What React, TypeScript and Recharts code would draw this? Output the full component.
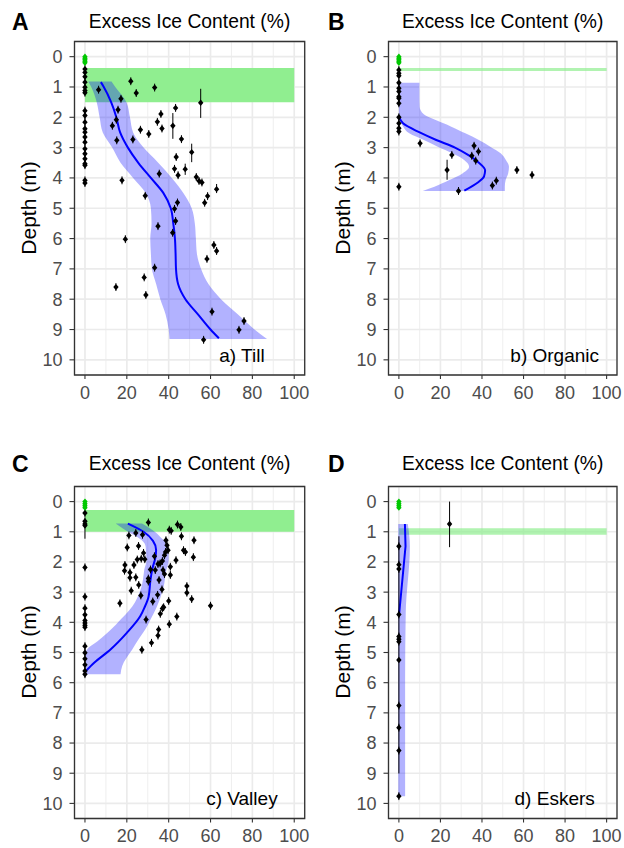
import React from "react";
import {
  ComposedChart,
  XAxis,
  YAxis,
  CartesianGrid,
  Area,
  Line,
  Scatter,
  ErrorBar,
  ReferenceArea,
  ReferenceDot,
} from "recharts";

const FONT = "'Liberation Sans', Arial, sans-serif";

const X_TICKS = [0, 20, 40, 60, 80, 100];
const X_MINOR = [10, 30, 50, 70, 90];
const Y_TICKS = [0, 1, 2, 3, 4, 5, 6, 7, 8, 9, 10];
const Y_MINOR = [0.5, 1.5, 2.5, 3.5, 4.5, 5.5, 6.5, 7.5, 8.5, 9.5];
const X_DOMAIN = [-5, 105];
const Y_DOMAIN = [-0.5, 10.5];
const DEFAULT_ERR = 0.13;

// ---- a) Till ----
const TILL_SURFACE = [0, 0.05, 0.1, 0.15, 0.2];
const TILL_ZERO = [0.41, 0.52, 0.66, 0.84, 1.01, 1.12, 1.19, 1.78, 1.94, 2.16, 2.38, 2.49, 2.65, 2.82, 3.04, 3.2, 3.37, 3.53, 3.58, 4.08, 4.17];
// [excess ice %, depth, err above, err below]
const TILL_POINTS = [
  [6.5, 1.09], [21.9, 0.81], [24.5, 1.2], [33.3, 1.02], [17.2, 1.39], [55.3, 1.52, 0.46, 0.5],
  [15.8, 1.75], [43.3, 1.69], [36.3, 1.89], [15, 2.08], [13.1, 2.28], [34.6, 2.15],
  [42, 2.28, 0.42, 0.43], [36.8, 2.37], [26.5, 2.41], [30.5, 2.55], [15.2, 2.76], [22.9, 2.73],
  [46.1, 2.72], [51, 3.15, 0.28, 0.33], [43.6, 3.31], [42.8, 3.7], [47.9, 3.71, 0.18, 0.19],
  [35.5, 3.86], [44.5, 3.91], [53.2, 3.97], [54.5, 4.1], [55.9, 4.15], [17.7, 4.08],
  [62.9, 4.37, 0.17, 0.13], [58.6, 4.6], [57.2, 4.82], [28.8, 4.59], [44.2, 4.81], [42.8, 5.02],
  [43.3, 5.42], [34.9, 5.59], [41.9, 5.81], [19.3, 6.02], [61.6, 6.21], [62.9, 6.41], [58.3, 6.67],
  [33.3, 6.96], [28.3, 7.28], [14.8, 7.6], [29.1, 7.86], [60.7, 8.41], [76, 8.72], [73.6, 9.01],
  [56.7, 9.34],
];
// [depth, fitted %]
const TILL_FIT = [
  [0.84, 7.6], [1.0, 9], [1.5, 12.5], [2.0, 15], [2.5, 16.8], [3.0, 20.5], [3.5, 25.5],
  [4.0, 31.5], [4.5, 37.5], [5.0, 41], [5.5, 42.2], [6.0, 43], [6.5, 43.3], [7.0, 43.5],
  [7.5, 44.5], [8.0, 48], [8.5, 54], [9.0, 60], [9.29, 64],
];
// [depth, lower, upper]
const TILL_BAND = [
  [0.82, 1.6, 12.7], [1.0, 3, 14.5], [1.5, 5.6, 19.8], [2.0, 7, 21.5], [2.5, 8.5, 23],
  [3.0, 13, 28], [3.5, 17, 35], [4.0, 23, 41.5], [4.5, 29, 47], [5.0, 31.5, 51],
  [5.5, 31.8, 52.5], [6.0, 31.2, 53], [6.5, 31.5, 53.5], [7.0, 32, 55.5], [7.5, 34, 59],
  [8.0, 36, 65], [8.5, 38.5, 73], [9.0, 40, 81], [9.31, 40.4, 87],
];
const TILL_LAYER = [0.37, 1.5];

// ---- b) Organic ----
const ORG_SURFACE = [0, 0.05, 0.1, 0.15, 0.2];
const ORG_ZERO = [0.44, 0.55, 0.63, 0.86, 1.04, 1.15, 1.32, 1.37, 1.54, 2.0, 2.2, 2.36, 2.47, 4.29];
const ORG_POINTS = [
  [10.2, 2.86], [25.5, 3.24], [23.2, 3.74, 0.34, 0.32], [36.2, 2.94], [38.3, 3.13], [35.1, 3.27],
  [37, 3.43], [56.8, 3.74], [64.1, 3.9], [46.9, 4.09], [45, 4.25], [28.7, 4.43],
];
const ORG_FIT = [
  [2.0, 0.2], [2.2, 2], [2.5, 10], [2.75, 18], [3.0, 27], [3.25, 33.5], [3.5, 38.5],
  [3.75, 41.5], [3.95, 41], [4.15, 38], [4.42, 31.5],
];
const ORG_BAND = [
  [0.86, 0, 9.9], [1.3, 0, 9.9], [1.65, 0, 10], [1.9, 0, 12], [2.1, 0.5, 18], [2.3, 2, 25],
  [2.53, 5, 32], [2.75, 12, 38.5], [2.97, 18.7, 44], [3.19, 25.8, 49], [3.41, 31.4, 51.5],
  [3.63, 33.8, 53], [3.85, 30.6, 52.6], [4.07, 24.3, 51.4], [4.29, 17.1, 51], [4.43, 11.5, 51],
];
const ORG_LAYER = [0.37, 0.47];

// ---- c) Valley ----
const VAL_SURFACE = [0, 0.07, 0.14, 0.2];
const VAL_ZERO = [0.38, 0.65, 0.74, 2.18, 3.15, 3.53, 3.75, 3.94, 4.02, 4.1, 4.16, 4.79, 5.01, 5.21, 5.41, 5.61, 5.72];
const VAL_POINTS = [
  [0, 0.79, 0.1, 0.44],
  [30.3, 0.69], [21, 1.12], [24.3, 1.04], [27.5, 1.1], [40.3, 0.93], [41.2, 0.97], [44.2, 0.76],
  [45.8, 0.84], [46.1, 1.15], [52.1, 1.28], [20.2, 1.52], [25.6, 1.47], [38.7, 1.28], [39.2, 1.45],
  [39.7, 1.61], [28, 1.7], [33.2, 1.81], [38.5, 1.67], [38, 1.78], [47.1, 1.61], [48, 1.67],
  [51.8, 1.84], [25, 1.92], [26.9, 1.89], [28.6, 1.91], [19.1, 2.1], [23.4, 2.1], [43.5, 1.94],
  [37, 1.97], [35.9, 2.05], [40.8, 2.16], [40.8, 2.43], [34.9, 2.07], [33.6, 2.27], [18.9, 2.29],
  [21.5, 2.35], [21.5, 2.52], [24.3, 2.51], [31.3, 2.25], [37.3, 2.27], [38, 2.4], [30.3, 2.55],
  [30.3, 2.65], [35.4, 2.6], [25.7, 2.76], [22.1, 2.95], [36.8, 2.91], [48.7, 2.8], [48.7, 3.02],
  [32.4, 3.31], [34.7, 3.09], [26.7, 3.11], [51, 3.23], [40, 3.29], [60, 3.45], [16.7, 3.37],
  [37.6, 3.5], [37, 3.54], [36, 3.72], [43.9, 3.81], [29.2, 3.91], [40.3, 4.06], [35.2, 4.24],
  [34.9, 4.44], [31.8, 4.68], [27.2, 4.91],
];
const VAL_FIT = [
  [0.73, 20.5], [1.0, 28], [1.3, 32.5], [1.6, 34], [1.9, 33.5], [2.2, 32.3], [2.6, 31.3],
  [3.15, 30.4], [3.5, 28.5], [3.8, 26.4], [4.35, 20], [4.9, 12.2], [5.34, 4.4], [5.61, 0.5],
];
const VAL_BAND = [
  [0.73, 14.7, 27.3], [1.06, 22, 34.4], [1.17, 25, 36], [1.39, 28.5, 39.2], [1.5, 29, 39.8],
  [1.83, 29.3, 40], [1.94, 29.4, 40], [2.27, 28.3, 38.9], [2.38, 28.1, 38.6], [2.82, 27, 37.6],
  [2.93, 26.5, 37.2], [3.48, 22.6, 34.4], [4.02, 15.5, 30.5], [4.13, 14, 29.7], [4.63, 6, 25],
  [4.9, 1, 22.6], [4.96, 0.5, 22], [5.45, 0.5, 17.8], [5.72, 0.5, 17],
];
const VAL_LAYER = [0.28, 1.0];

// ---- d) Eskers ----
const ESK_SURFACE = [0, 0.07, 0.14, 0.2];
const ESK_ZERO = [1.48, 2.09, 2.23, 3.74, 4.47, 4.56, 4.64, 6.76, 7.49, 8.25, 9.76];
const ESK_POINTS = [[24.4, 0.74, 0.74, 0.77], [0, 5.25, 4.1, 3.76]];
const ESK_FIT = [[0.74, 2.9], [1.48, 3.2], [3.74, 0.1]];
const ESK_BAND = [[0.74, -0.3, 4.3], [1.48, -0.3, 5.3], [3.7, -0.3, 3.3], [5.9, -0.3, 3], [9.76, -0.3, 3]];
const ESK_LAYER = [0.88, 1.1];

type Num = number[];

const toPoints = (zero: number[], pts: Num[]) => [
  ...zero.map((d) => ({ x: 0, d, e: [DEFAULT_ERR, DEFAULT_ERR] })),
  ...pts.map(([x, d, up, down]) => ({ x, d, e: [up ?? DEFAULT_ERR, down ?? DEFAULT_ERR] })),
];

const Diamond = (p: any) => (
  <polygon
    points={`${p.cx},${p.cy - 3.2} ${p.cx + 2.7},${p.cy} ${p.cx},${p.cy + 3.2} ${p.cx - 2.7},${p.cy}`}
    fill={p.fill}
  />
);

const XTick = (p: any) => (
  <text x={p.x} y={p.y} dy="0.71em" textAnchor="middle" fill="#4D4D4D" fontSize={18} fontFamily={FONT}>
    {p.payload.value}
  </text>
);

const YTick = (p: any) => (
  <text x={p.x} y={p.y} dy="0.355em" textAnchor="end" fill="#4D4D4D" fontSize={18} fontFamily={FONT}>
    {p.payload.value}
  </text>
);

type PanelProps = {
  left: number;
  top: number;
  plot: { l: number; t: number; r: number; b: number };
  surface: number[];
  zero: number[];
  points: Num[];
  fit: Num[];
  band: Num[];
  layer: number[];
  layerOpacity: number;
  label: string;
  linear?: boolean;
};

const W = 312;
const H = 424;
const Y_AXIS_W = 40;
const X_AXIS_H = 30;

const Panel = ({ left, top, plot, surface, zero, points, fit, band, layer, layerOpacity, label, linear }: PanelProps) => {
  const pts = toPoints(zero, points);
  const surf = surface.map((d) => ({ x: 0, d }));
  const fitData = fit.map(([d, x]) => ({ d, x }));
  const bandData = band.map(([d, lo, hi]) => ({ d, r: [lo, hi] }));
  const margin = {
    top: plot.t,
    left: plot.l - Y_AXIS_W,
    right: W - plot.r,
    bottom: H - plot.b - X_AXIS_H,
  };

  return (
    <div style={{ position: "absolute", left, top }}>
      <ComposedChart layout="vertical" width={W} height={H} margin={margin}>
        <XAxis xAxisId="minor" type="number" domain={X_DOMAIN} ticks={X_MINOR} allowDataOverflow hide />
        <YAxis yAxisId="minor" type="number" domain={Y_DOMAIN} ticks={Y_MINOR} allowDataOverflow hide />
        <CartesianGrid xAxisId="minor" yAxisId="minor" stroke="#EBEBEB" strokeWidth={0.8} />
        <CartesianGrid stroke="#EBEBEB" strokeWidth={1.7} />
        <XAxis
          type="number"
          dataKey="x"
          domain={X_DOMAIN}
          ticks={X_TICKS}
          allowDataOverflow
          height={X_AXIS_H}
          axisLine={false}
          tickSize={4}
          tickMargin={7}
          tickLine={{ stroke: "#333333", strokeWidth: 1.1 }}
          tick={<XTick />}
        />
        <YAxis
          type="number"
          dataKey="d"
          domain={Y_DOMAIN}
          ticks={Y_TICKS}
          allowDataOverflow
          width={Y_AXIS_W}
          axisLine={false}
          tickSize={5}
          tickMargin={7}
          tickLine={{ stroke: "#333333", strokeWidth: 1.1 }}
          tick={<YTick />}
        />
        <ReferenceArea x1={0} x2={100} y1={layer[0]} y2={layer[1]} fill="#90EE90" fillOpacity={layerOpacity} stroke="none" ifOverflow="visible" />
        <Area
          data={bandData}
          dataKey="r"
          type="monotone"
          fill="#0000FF"
          fillOpacity={0.3}
          stroke="none"
          isAnimationActive={false}
        />
        <Line
          data={fitData}
          dataKey="x"
          type={linear ? "linear" : "monotone"}
          stroke="#0000FF"
          strokeWidth={2}
          dot={false}
          activeDot={false}
          isAnimationActive={false}
        />
        <Scatter data={pts} fill="#000000" shape={<Diamond />} isAnimationActive={false}>
          <ErrorBar dataKey="e" direction="y" width={0} stroke="#000000" strokeWidth={1} isAnimationActive={false} />
        </Scatter>
        <Scatter data={surf} fill="#00C800" shape={<Diamond />} isAnimationActive={false} />
        <ReferenceDot
          x={75}
          y={9.84}
          ifOverflow="visible"
          shape={(p: any) => (
            <text x={p.cx} y={p.cy} dy="0.36em" textAnchor="middle" fontSize={19} fontFamily={FONT} fill="#000000">
              {label}
            </text>
          )}
        />
        <ReferenceArea
          x1={X_DOMAIN[0]}
          x2={X_DOMAIN[1]}
          y1={Y_DOMAIN[0]}
          y2={Y_DOMAIN[1]}
          fill="none"
          stroke="#333333"
          strokeWidth={1.3}
          ifOverflow="visible"
        />
      </ComposedChart>
    </div>
  );
};

const Titles = () => {
  const rows = [
    { y: 0, mid: 208, tags: ["A", "B"] },
    { y: 442, mid: 652, tags: ["C", "D"] },
  ];
  return (
    <svg width={624} height={848} style={{ position: "absolute", left: 0, top: 0, pointerEvents: "none" }}>
      {rows.map((row) =>
        [0, 1].map((c) => {
          const cx = c === 0 ? 189.6 : 502.7;
          const tagX = c === 0 ? 12 : 328;
          const depthX = c === 0 ? 28 : 342;
          return (
            <g key={row.tags[c]} fontFamily={FONT} fill="#000">
              <text x={tagX} y={row.y + 29.5} fontSize={23} fontWeight="bold">
                {row.tags[c]}
              </text>
              <text x={cx} y={row.y + 27.5} fontSize={19.3} textAnchor="middle">
                Excess Ice Content (%)
              </text>
              <text
                transform={`translate(${depthX},${row.mid}) rotate(-90)`}
                fontSize={21}
                textAnchor="middle"
                dy="0.36em"
              >
                Depth (m)
              </text>
            </g>
          );
        })
      )}
    </svg>
  );
};

export default function App() {
  return (
    <div style={{ position: "absolute", left: 0, top: 0, width: 624, height: 848, background: "#fff" }}>
      <Panel
        left={0}
        top={0}
        plot={{ l: 74.5, t: 41.5, r: 304.7, b: 375 }}
        surface={TILL_SURFACE}
        zero={TILL_ZERO}
        points={TILL_POINTS}
        fit={TILL_FIT}
        band={TILL_BAND}
        layer={TILL_LAYER}
        layerOpacity={1}
        label="a) Till"
      />
      <Panel
        left={312}
        top={0}
        plot={{ l: 76.5, t: 41.5, r: 305, b: 375 }}
        surface={ORG_SURFACE}
        zero={ORG_ZERO}
        points={ORG_POINTS}
        fit={ORG_FIT}
        band={ORG_BAND}
        layer={ORG_LAYER}
        layerOpacity={0.7}
        label="b) Organic"
      />
      <Panel
        left={0}
        top={424}
        plot={{ l: 74.5, t: 62.5, r: 304.7, b: 394.5 }}
        surface={VAL_SURFACE}
        zero={VAL_ZERO}
        points={VAL_POINTS}
        fit={VAL_FIT}
        band={VAL_BAND}
        layer={VAL_LAYER}
        layerOpacity={1}
        label="c) Valley"
      />
      <Panel
        left={312}
        top={424}
        plot={{ l: 76.5, t: 62.5, r: 305, b: 394.5 }}
        surface={ESK_SURFACE}
        zero={ESK_ZERO}
        points={ESK_POINTS}
        fit={ESK_FIT}
        band={ESK_BAND}
        layer={ESK_LAYER}
        layerOpacity={0.7}
        label="d) Eskers"
        linear
      />
      <Titles />
    </div>
  );
}
